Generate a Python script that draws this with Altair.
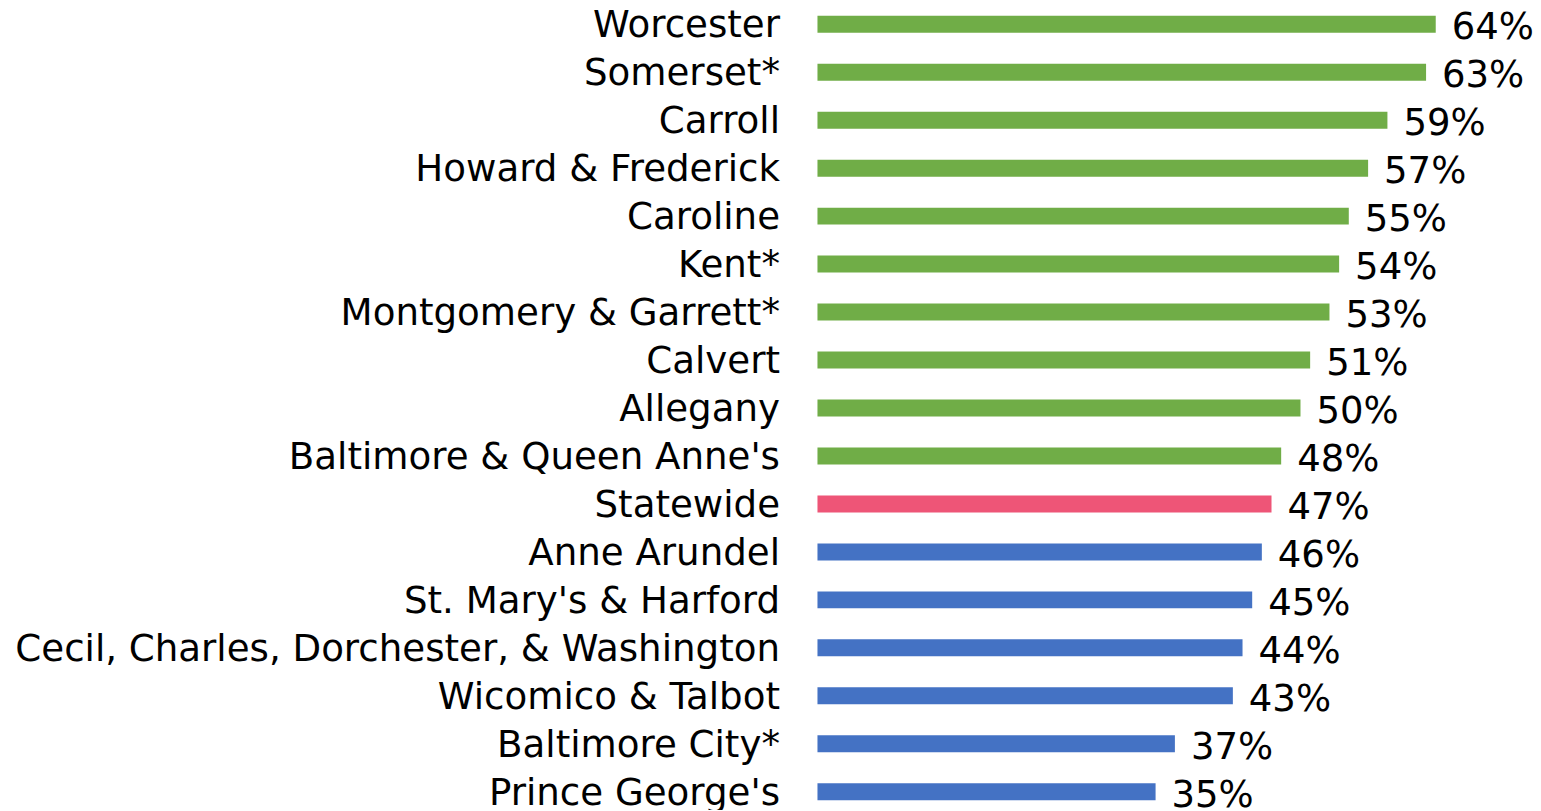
import altair as alt
import pandas as pd

counties = [
    "Worcester", "Somerset*", "Carroll", "Howard & Frederick", "Caroline",
    "Kent*", "Montgomery & Garrett*", "Calvert", "Allegany",
    "Baltimore & Queen Anne's", "Statewide", "Anne Arundel",
    "St. Mary's & Harford\u00a0", "Cecil, Charles, Dorchester, & Washington",
    "Wicomico & Talbot", "Baltimore City*", "Prince George's",
]
values = [0.64, 0.63, 0.59, 0.57, 0.55, 0.54, 0.53, 0.51, 0.50, 0.48,
          0.47, 0.46, 0.45, 0.44, 0.43, 0.37, 0.35]
groups = ["above"] * 10 + ["statewide"] + ["below"] * 6

group_domain = ["above", "statewide", "below"]
group_colors = ["#70AD47", "#EE5577", "#4472C4"]

df = pd.DataFrame({"county": counties, "value": values, "group": groups})

FONT = "DejaVu Sans"

y_enc = alt.Y(
    "county:N",
    sort=counties,
    title=None,
    scale=alt.Scale(paddingInner=0.646, paddingOuter=0.156),
    axis=alt.Axis(
        domain=False, ticks=False, grid=False,
        labelFont=FONT, labelFontSize=37.2, labelColor="#000000",
        labelPadding=38, labelLimit=2000,
        labelBaseline="alphabetic", labelOffset=13,
    ),
)
x_enc = alt.X(
    "value:Q",
    title=None,
    scale=alt.Scale(domain=[0, 0.72], nice=False, zero=True),
    axis=None,
)

bars = alt.Chart(df).mark_bar().encode(
    x=x_enc,
    y=y_enc,
    color=alt.Color("group:N", scale=alt.Scale(domain=group_domain, range=group_colors), legend=None),
)

labels = alt.Chart(df).mark_text(
    align="left", baseline="alphabetic", dx=16, dy=15,
    font=FONT, fontSize=37, color="#000000",
).encode(
    x=x_enc,
    y=y_enc,
    text=alt.Text("value:Q", format=".0%"),
)

chart = alt.layer(bars, labels).properties(
    width=696, height=800,
    autosize=alt.AutoSizeParams(type="none"),
    padding={"left": 810, "top": 0, "right": 20, "bottom": 2},
).configure_view(strokeWidth=0)

chart.save("out.html", embed_options={"renderer": "svg", "actions": False})
